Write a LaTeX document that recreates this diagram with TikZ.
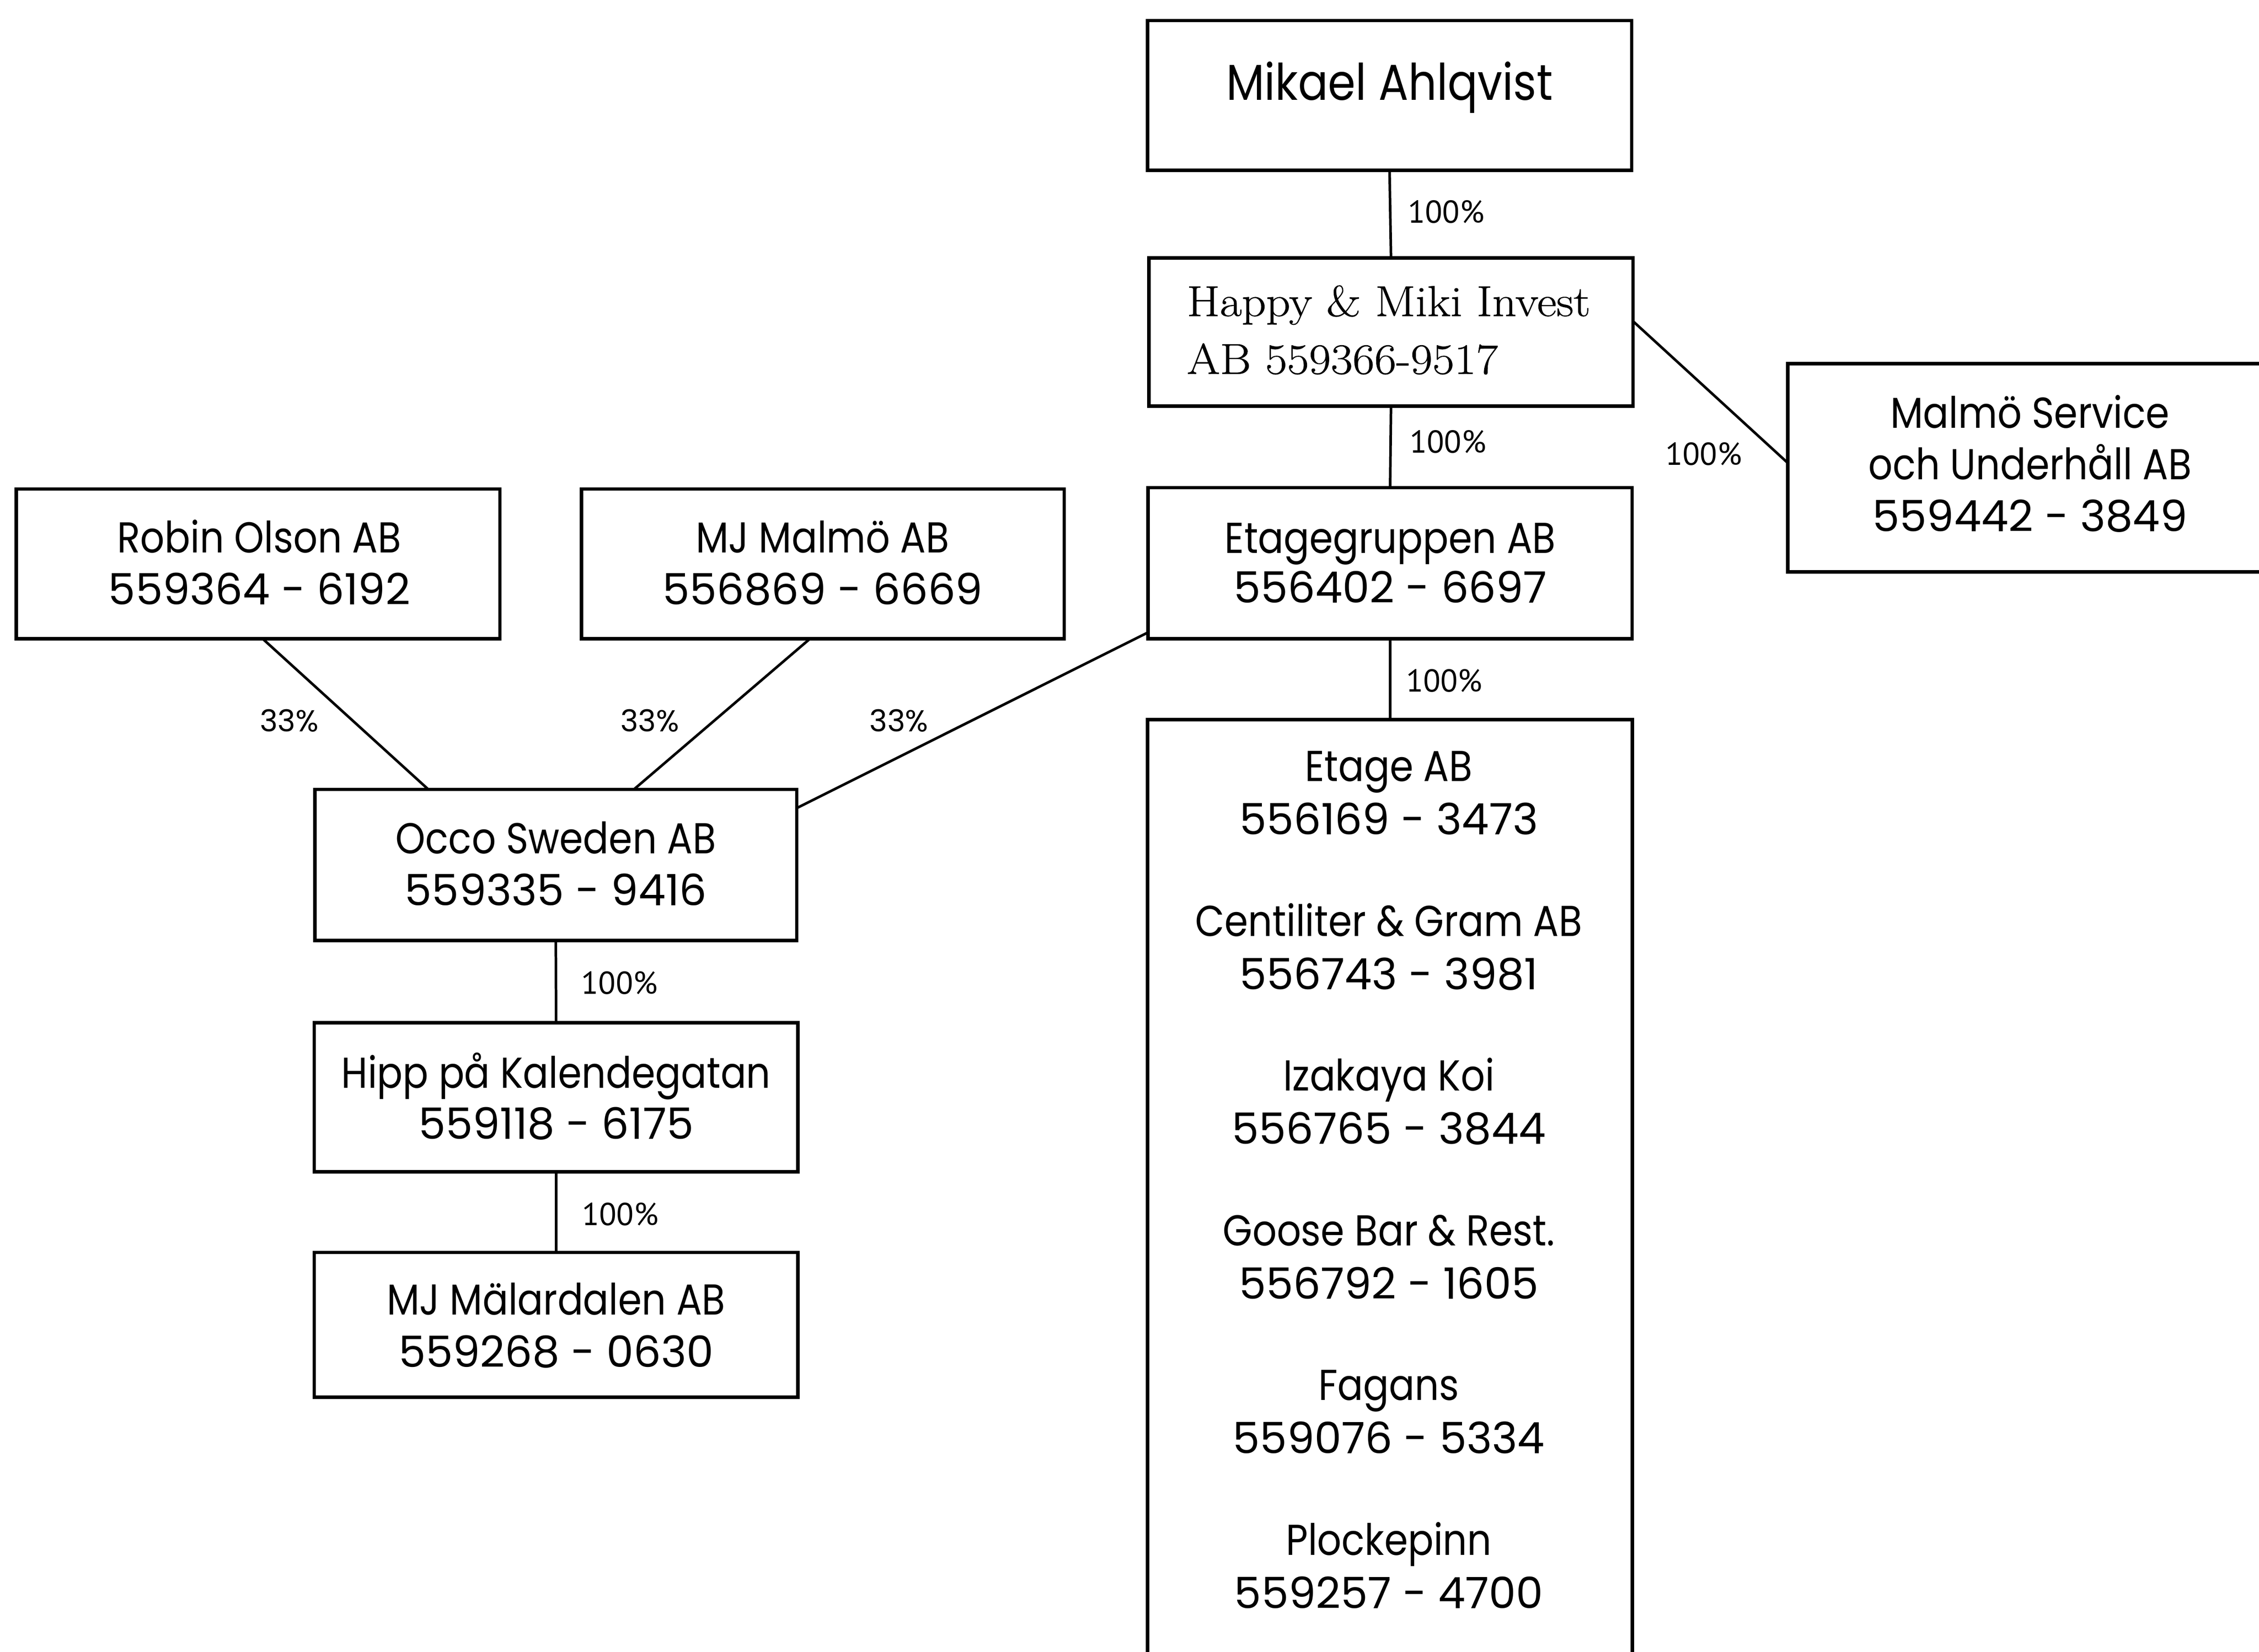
\documentclass[tikz,border=0pt]{standalone}
\usepackage{fontspec}
\newfontfamily\futf{Poppins}[FakeStretch=0.88]
\newfontfamily\futn{Poppins}
\newfontfamily\serf{Latin Modern Roman}[FakeStretch=1.1,FakeBold=0.8]
\newfontfamily\labf{PT Sans}
\begin{document}
\begin{tikzpicture}[x=1pt,y=-1pt,
  box/.style={draw,line width=2.4pt,inner sep=0pt,outer sep=0pt,minimum width=336pt,minimum height=104pt},
  conn/.style={line width=1.8pt},
  txt/.style={inner sep=0pt,anchor=base,font=\futf\fontsize{30}{36}\selectfont},
  num/.style={inner sep=0pt,anchor=base,font=\futn\fontsize{30}{36}\selectfont},
  big/.style={inner sep=0pt,anchor=base,font=\futf\fontsize{35}{42}\selectfont},
  ser/.style={inner sep=0pt,anchor=base west,font=\serf\fontsize{30}{36}\selectfont},
  pct/.style={inner sep=0pt,anchor=base,font=\labf\fontsize{22}{26}\selectfont},
  pctb/.style={inner sep=0pt,anchor=base,font=\futn\fontsize{21}{26}\selectfont}]
\useasboundingbox (0,0) rectangle (1568,1146.7);
\clip (0,0) rectangle (1568,1146.7);
% boxes
\node[box] (mik) at (964.5,66.25) {};
\node[box,minimum height=103pt] (hap) at (965.5,230.5) {};
\node[box,minimum height=105pt] (etg) at (964.9,391) {};
\node[box,minimum height=144.5pt] (mal) at (1409,324.75) {};
\node[box,minimum width=335.8pt] (rob) at (179.1,391.5) {};
\node[box,minimum width=335.2pt] (mjm) at (571.1,391.5) {};
\node[box,minimum width=334.4pt,minimum height=105pt] (occ) at (385.8,600.5) {};
\node[box,minimum width=335.7pt,minimum height=103.6pt] (hip) at (386,761.7) {};
\node[box,minimum width=335.7pt,minimum height=100.6pt] (mla) at (386,919.7) {};
\node[box,minimum width=336.5pt,minimum height=670.4pt] (grp) at (964.8,834.8) {};
% texts
\node[big] (mikt) at (964.5,69.5) {Mikael Ahlqvist};
\node[ser] (hapt1) at (823.7,219.4) {Happy \& Miki Invest};
\node[ser] (hapt2) at (823.7,259.5) {AB 559366-9517};
\node[txt] (etgt1) at (965,384) {Etagegruppen AB};
\node[num] (etgt2) at (965,418.4) {556402 - 6697};
\node[txt] (malt1) at (1409,297) {Malmö Service};
\node[txt] (malt2) at (1409,333) {och Underhåll AB};
\node[num] (malt3) at (1409,369) {559442 - 3849};
\node[txt] (robt1) at (180,383.7) {Robin Olson AB};
\node[num] (robt2) at (180,419.8) {559364 - 6192};
\node[txt] (mjmt1) at (571,383.7) {MJ Malmö AB};
\node[num] (mjmt2) at (571,419.8) {556869 - 6669};
\node[txt] (occt1) at (385.8,592.6) {Occo Sweden AB};
\node[num] (occt2) at (385.8,628.6) {559335 - 9416};
\node[txt] (hipt1) at (386,755.3) {Hipp på Kalendegatan};
\node[num] (hipt2) at (386,790.8) {559118 - 6175};
\node[txt] (mlat1) at (386,912.6) {MJ Mälardalen AB};
\node[num] (mlat2) at (386,949.2) {559268 - 0630};
\node[txt] (g1a) at (964,542.4) {Etage AB};
\node[num] (g1b) at (964,579.5) {556169 - 3473};
\node[txt] (g2a) at (964,649.8) {Centiliter \& Gram AB};
\node[num] (g2b) at (964,686.9) {556743 - 3981};
\node[txt] (g3a) at (964,757.2) {Izakaya Koi};
\node[num] (g3b) at (964,794.3) {556765 - 3844};
\node[txt] (g4a) at (964,864.6) {Goose Bar \& Rest.};
\node[num] (g4b) at (964,901.7) {556792 - 1605};
\node[txt] (g5a) at (964,972) {Fagans};
\node[num] (g5b) at (964,1009.1) {559076 - 5334};
\node[txt] (g6a) at (964,1079.4) {Plockepinn};
\node[num] (g6b) at (964,1116.5) {559257 - 4700};
% connectors
\draw[conn] (mik.south) -- (hap.north);
\draw[conn] (hap.south) -- (etg.north);
\draw[conn] ([yshift=7.5pt]hap.east) -- ([yshift=3.3pt]mal.west);
\draw[conn] (etg.south) -- (etg.south |- grp.north);
\draw[conn] ([xshift=3.3pt]rob.south) -- ([xshift=-88.5pt]occ.north);
\draw[conn] ([xshift=-9pt]mjm.south) -- ([xshift=54.2pt]occ.north);
\draw[conn] ([yshift=4.5pt]etg.south west) -- ([yshift=-13pt]occ.north east);
\draw[conn] (occ.south) -- (hip.north);
\draw[conn] (hip.south) -- (mla.north);
% labels
\node[pct] (p1) at (1003.8,154.7) {100\%};
\node[pct] (p2) at (1005,314.5) {100\%};
\node[pct] (p3) at (1182.5,322.7) {100\%};
\node[pct] (p4) at (1002.4,480.4) {100\%};
\node[pct] (p5) at (430,690) {100\%};
\node[pct] (p6) at (430.5,850.6) {100\%};
\node[pctb] (q1) at (200.8,507.8) {33\%};
\node[pctb] (q2) at (451,507.8) {33\%};
\node[pctb] (q3) at (624,507.8) {33\%};
\end{tikzpicture}
\end{document}
